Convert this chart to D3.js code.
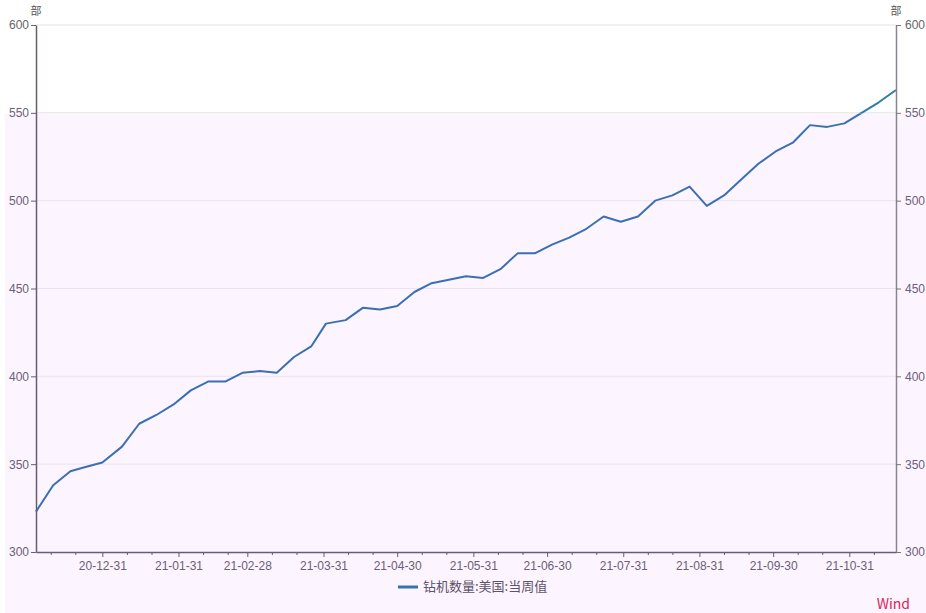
<!DOCTYPE html>
<html>
<head>
<meta charset="utf-8">
<script src="https://cdn.jsdelivr.net/npm/d3@7"></script>
<style>
  body { margin: 0; background: #fff; }
  svg { display: block; font-family: "Noto Sans CJK SC", "Noto Sans", sans-serif; }
</style>
</head>
<body>
<svg width="926" height="613"></svg>
<script>
// weekly US rig count (Baker Hughes)
let dates = [
  "2020-12-04", "2020-12-11", "2020-12-18", "2020-12-23", "2020-12-31",
  "2021-01-08", "2021-01-15", "2021-01-22", "2021-01-29",
  "2021-02-05", "2021-02-12", "2021-02-19", "2021-02-26",
  "2021-03-05", "2021-03-12", "2021-03-19", "2021-03-26",
  "2021-04-01", "2021-04-09", "2021-04-16", "2021-04-23", "2021-04-30",
  "2021-05-07", "2021-05-14", "2021-05-21", "2021-05-28",
  "2021-06-04", "2021-06-11", "2021-06-18", "2021-06-25",
  "2021-07-02", "2021-07-09", "2021-07-16", "2021-07-23", "2021-07-30",
  "2021-08-06", "2021-08-13", "2021-08-20", "2021-08-27",
  "2021-09-03", "2021-09-10", "2021-09-17", "2021-09-24",
  "2021-10-01", "2021-10-08", "2021-10-15", "2021-10-22", "2021-10-29",
  "2021-11-05", "2021-11-12", "2021-11-19"
];
let rigCount = [
  323, 338, 346, 348, 351,
  360, 373, 378, 384,
  392, 397, 397, 402,
  403, 402, 411, 417,
  430, 432, 439, 438, 440,
  448, 453, 455, 457,
  456, 461, 470, 470,
  475, 479, 484, 491, 488,
  491, 500, 503, 508,
  497, 503, 512, 521,
  528, 533, 543, 542, 544,
  550, 556, 563
];
let xTickDates = ["2020-12-31", "2021-01-31", "2021-02-28", "2021-03-31", "2021-04-30",
  "2021-05-31", "2021-06-30", "2021-07-31", "2021-08-31", "2021-09-30", "2021-10-31"];
let xMinorDates = ["2020-12-10", "2020-12-20", "2021-01-10", "2021-01-20", "2021-02-10", "2021-02-20",
  "2021-03-10", "2021-03-20", "2021-04-10", "2021-04-20", "2021-05-10", "2021-05-20",
  "2021-06-10", "2021-06-20", "2021-07-10", "2021-07-20", "2021-08-10", "2021-08-20",
  "2021-09-10", "2021-09-20", "2021-10-10", "2021-10-20", "2021-11-10"];
let yTicks = [300, 350, 400, 450, 500, 550, 600];
let seriesName = "钻机数量:美国:当周值";
let unitLabel = "部";

let parse = d3.timeParse("%Y-%m-%d");
let fmt = d3.timeFormat("%y-%m-%d");

let svg = d3.select("svg");
let margin = { top: 25, right: 30, bottom: 61, left: 36 };
let width = 926, height = 613;
let plotWidth = width - margin.left - margin.right;
let plotHeight = height - margin.top - margin.bottom;

let x = d3.scaleTime()
  .domain([parse(dates[0]), parse(dates[dates.length - 1])])
  .range([0, plotWidth]);
let y = d3.scaleLinear().domain([300, 600]).range([plotHeight, 0]);

let textColor = "#6b5f78";
let axisColor = "#675d73";

// tinted band (lower part of the picture)
svg.append("rect")
  .attr("x", 5).attr("y", margin.top + y(550) + 1)
  .attr("width", width - 5).attr("height", height)
  .attr("fill", "#fcf4fe");

let plot = svg.append("g")
  .attr("transform", "translate(" + margin.left + "," + margin.top + ")");

// grid
plot.append("g").selectAll("line")
  .data(yTicks.filter(d => d > 300))
  .enter().append("line")
  .attr("x1", 0).attr("x2", plotWidth)
  .attr("y1", d => y(d)).attr("y2", d => y(d))
  .attr("stroke", d => d >= 550 ? "#e2e2e2" : "#ece2f4")
  .attr("stroke-width", 1);

// line, two tones (above / below the tint edge)
let line = d3.line()
  .x((d, i) => x(parse(dates[i])))
  .y(d => y(d));

let defs = svg.append("defs");
defs.append("clipPath").attr("id", "clipTop")
  .append("rect").attr("x", -5).attr("y", -5).attr("width", plotWidth + 10).attr("height", y(550) + 6);
defs.append("clipPath").attr("id", "clipBottom")
  .append("rect").attr("x", -5).attr("y", y(550) + 1).attr("width", plotWidth + 10).attr("height", plotHeight);

plot.append("path")
  .datum(rigCount)
  .attr("d", line)
  .attr("fill", "none")
  .attr("stroke", "#3a70b3")
  .attr("stroke-width", 2)
  .attr("stroke-linejoin", "round")
  .attr("clip-path", "url(#clipBottom)");

plot.append("path")
  .datum(rigCount)
  .attr("d", line)
  .attr("fill", "none")
  .attr("stroke", "#2d7fa3")
  .attr("stroke-width", 2)
  .attr("stroke-linejoin", "round")
  .attr("clip-path", "url(#clipTop)");

// x axis
let xAxis = d3.axisBottom(x)
  .tickValues(xTickDates.map(parse))
  .tickFormat(fmt)
  .tickSize(5)
  .tickSizeOuter(0)
  .tickPadding(3);
let xGroup = plot.append("g").attr("transform", "translate(0," + plotHeight + ")").call(xAxis);
xGroup.select(".domain").attr("stroke", axisColor).attr("stroke-width", 1.5);
xGroup.selectAll(".tick line").attr("stroke", axisColor);
xGroup.selectAll(".tick text").attr("fill", textColor).attr("font-size", 12).attr("dy", "0.8em");

let xMinor = d3.axisBottom(x).tickValues(xMinorDates.map(parse)).tickFormat("").tickSize(3).tickSizeOuter(0);
let xMinorGroup = plot.append("g").attr("transform", "translate(0," + plotHeight + ")").call(xMinor);
xMinorGroup.select(".domain").remove();
xMinorGroup.selectAll(".tick line").attr("stroke", axisColor);

// left axis
let yAxisL = d3.axisLeft(y).tickValues(yTicks).tickSize(5).tickSizeOuter(0).tickPadding(2);
let yl = plot.append("g").call(yAxisL);
yl.select(".domain").attr("stroke", axisColor).attr("stroke-width", 1.5);
yl.selectAll(".tick line").attr("stroke", axisColor);
yl.selectAll(".tick text").attr("fill", d => d >= 600 ? "#666" : textColor).attr("font-size", 12);

// right axis
let yAxisR = d3.axisRight(y).tickValues(yTicks).tickSize(5).tickSizeOuter(0).tickPadding(4);
let yr = plot.append("g").attr("transform", "translate(" + plotWidth + ",0)").call(yAxisR);
yr.select(".domain").attr("stroke", "#8a8490").attr("stroke-width", 1.5);
yr.selectAll(".tick line").attr("stroke", "#777");
yr.selectAll(".tick text").attr("fill", d => d >= 600 ? "#666" : textColor).attr("font-size", 12);

// unit labels
svg.append("text").attr("x", margin.left).attr("y", 15)
  .attr("text-anchor", "middle").attr("font-size", 11).attr("fill", "#555").text(unitLabel);
svg.append("text").attr("x", margin.left + plotWidth).attr("y", 15)
  .attr("text-anchor", "middle").attr("font-size", 11).attr("fill", "#555").text(unitLabel);

// legend
svg.append("line")
  .attr("x1", 398).attr("x2", 418).attr("y1", 587).attr("y2", 587)
  .attr("stroke", "#3a70b3").attr("stroke-width", 3);
svg.append("text").attr("x", 423).attr("y", 591)
  .attr("font-size", 13).attr("fill", "#5e5268").text(seriesName);

// watermark
svg.append("text").attr("x", 910).attr("y", 609)
  .attr("text-anchor", "end").attr("font-size", 14).attr("fill", "#d6245a").text("Wind");
</script>
</body>
</html>
